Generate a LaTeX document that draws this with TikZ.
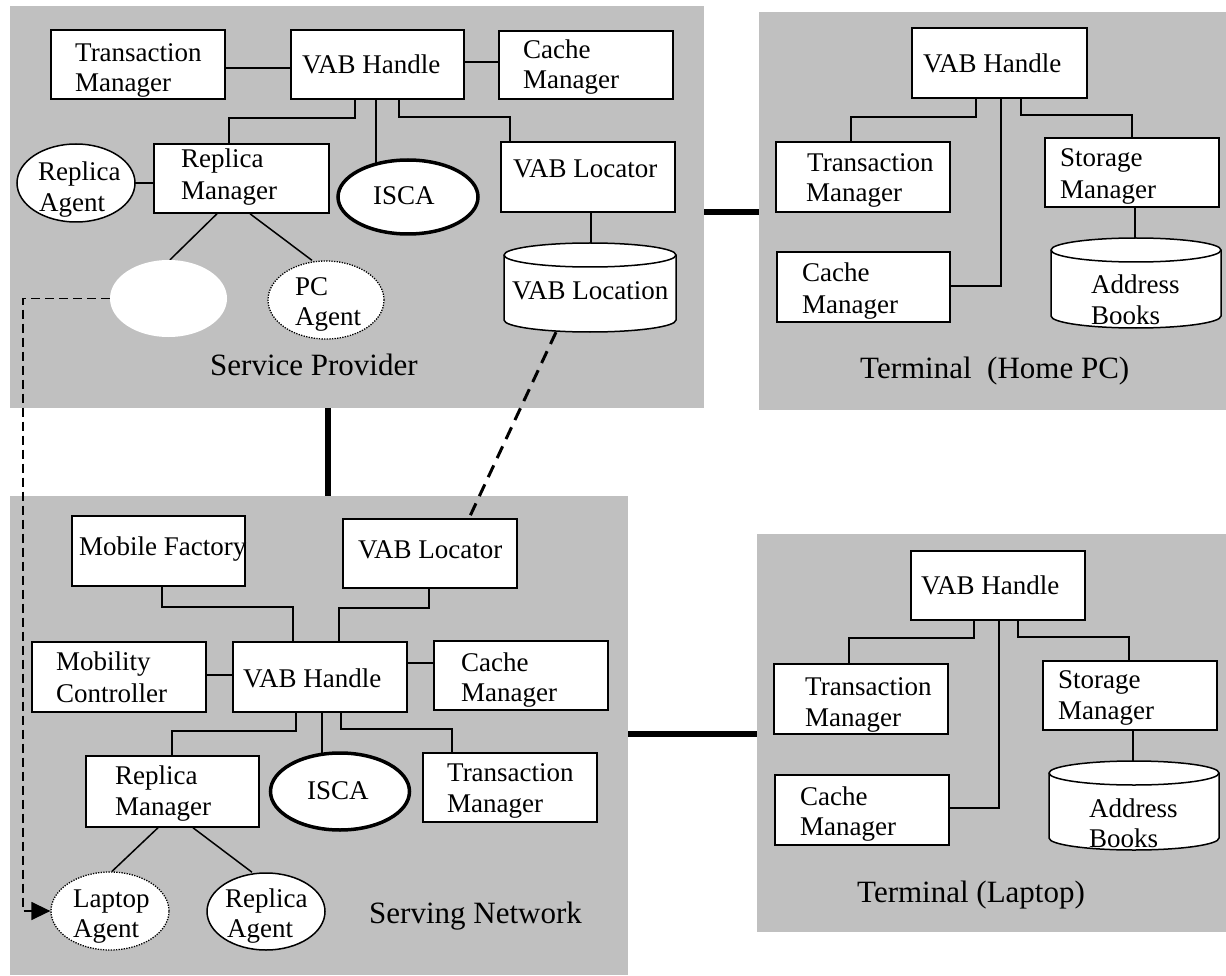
\documentclass[tikz,border=0pt]{standalone}
\usepackage{fontspec}
\setmainfont{Liberation Serif}
\usetikzlibrary{fit,shapes.geometric,arrows.meta}
\pgfdeclarelayer{panels}
\pgfdeclarelayer{wires}
\pgfsetlayers{panels,wires,main}
\definecolor{panelgray}{RGB}{192,192,192}
\tikzset{
  panel/.style={fill=panelgray, draw=none, inner sep=0},
  boxst/.style={draw, fill=white, line width=1.5pt, inner sep=0},
  ell/.style={ellipse, draw, fill=white, line width=1.5pt, inner sep=0},
  thickell/.style={ell, line width=3.5pt},
  dotell/.style={ell, line width=1.3pt, dash pattern=on 1.3pt off 1.3pt},
  blank/.style={ellipse, fill=white, draw=none, inner sep=0},
  txt/.style={font=\fontsize{27}{30}\selectfont, inner sep=0, anchor=base west},
  title/.style={font=\fontsize{31}{34}\selectfont, inner sep=0, anchor=base west},
  wire/.style={line width=1.5pt},
  trunk/.style={line width=6pt},
  locdash/.style={line width=3pt, dash pattern=on 13pt off 8pt},
  movedash/.style={line width=1.5pt, dash pattern=on 9pt off 5pt},
}
% rectangle component: name, corners
\newcommand\bx[5]{\node[boxst, fit={(#2,#3)(#4,#5)}] (#1) {};}
% text line: name, baseline start, text
\newcommand\tx[4]{\node[txt] (#1) at (#2,#3) {#4};}
% database cylinder: name, corners, cap radius
\newcommand\cyl[6]{%
  \node[fit={(#2,#3)(#4,#5)}, inner sep=0] (#1) {};
  \pgfmathsetmacro\cylrx{(#4-#2)/2}
  \draw[boxst] (#2,#3+#6) -- (#2,#5-#6)
    arc[start angle=180, end angle=360, x radius=\cylrx pt, y radius=#6pt]
    -- (#4,#3+#6)
    arc[start angle=0, end angle=180, x radius=\cylrx pt, y radius=#6pt] -- cycle;
  \draw[line width=1.5pt] (#2,#3+#6)
    arc[start angle=180, end angle=360, x radius=\cylrx pt, y radius=#6pt];
}

\begin{document}
\begin{tikzpicture}[x=1pt, y=-1pt]
\useasboundingbox (0,0) rectangle (1226,976);

% ---------- panels ----------
\begin{pgfonlayer}{panels}
  \node[panel, fit={(10,6)(704,408)}] (sp) {};
  \node[panel, fit={(759,12)(1226,410)}] (hp) {};
  \node[panel, fit={(10,496)(628,975)}] (sn) {};
  \node[panel, fit={(757,534)(1226,932)}] (lp) {};
\end{pgfonlayer}

% ---------- Service Provider ----------
\bx{sptm}{51}{30}{225}{99}
\tx{sptm1}{75}{62}{Transaction}
\tx{sptm2}{75}{92}{Manager}
\bx{spvh}{291}{30}{464}{99}
\tx{spvh1}{302}{74}{VAB Handle}
\bx{spcm}{499}{31}{673}{99}
\tx{spcm1}{523}{59}{Cache}
\tx{spcm2}{523}{89}{Manager}
\bx{sprm}{154}{144}{329}{213}
\tx{sprm1}{181}{168}{Replica}
\tx{sprm2}{181}{200}{Manager}
\node[ell, minimum width=118pt, minimum height=78pt] (spra) at (76,183) {};
\tx{spra1}{38}{181}{Replica}
\tx{spra2}{39}{212}{Agent}
\node[thickell, minimum width=140pt, minimum height=74pt] (spis) at (408,197) {};
\tx{spis1}{373}{205}{ISCA}
\bx{spvl}{501}{142}{675}{212}
\tx{spvl1}{513}{178}{VAB Locator}
\cyl{sploc}{504}{243}{676}{332}{12}
\tx{sploc1}{512}{300}{VAB Location}
\node[blank, minimum width=117pt, minimum height=77pt] (spw) at (168.5,298.5) {};
\node[dotell, minimum width=116pt, minimum height=78pt] (sppc) at (326,300) {};
\tx{sppc1}{295}{295}{PC}
\tx{sppc2}{295}{326}{Agent}
\node[title] (splbl) at (210,375) {Service Provider};

% ---------- Terminal (Home PC) ----------
\bx{hpvh}{912}{28}{1087}{98}
\tx{hpvh1}{923}{73}{VAB Handle}
\bx{hptm}{776}{142}{950}{212}
\tx{hptm1}{807}{172}{Transaction}
\tx{hptm2}{806}{202}{Manager}
\bx{hpsm}{1045}{138}{1219}{207}
\tx{hpsm1}{1060}{167}{Storage}
\tx{hpsm2}{1060}{199}{Manager}
\bx{hpcm}{777}{252}{950}{322}
\tx{hpcm1}{802}{282}{Cache}
\tx{hpcm2}{802}{313}{Manager}
\cyl{hpab}{1051}{238}{1221}{328}{12}
\tx{hpab1}{1091}{294}{Address}
\tx{hpab2}{1091}{324}{Books}
\node[title] (hplbl) at (860,378) {Terminal\ \ (Home PC)};

% ---------- Terminal (Laptop) ----------
\bx{lpvh}{911}{551}{1085}{620}
\tx{lpvh1}{921}{594}{VAB Handle}
\bx{lptm}{774}{664}{948}{734}
\tx{lptm1}{805}{695}{Transaction}
\tx{lptm2}{805}{726}{Manager}
\bx{lpsm}{1043}{661}{1217}{730}
\tx{lpsm1}{1058}{688}{Storage}
\tx{lpsm2}{1058}{719}{Manager}
\bx{lpcm}{775}{775}{949}{845}
\tx{lpcm1}{800}{805}{Cache}
\tx{lpcm2}{800}{835}{Manager}
\cyl{lpab}{1049}{761}{1219}{850}{12}
\tx{lpab1}{1089}{817}{Address}
\tx{lpab2}{1089}{847}{Books}
\node[title] (lplbl) at (857,902) {Terminal (Laptop)};

% ---------- Serving Network ----------
\bx{snmf}{72}{516}{245}{586}
\tx{snmf1}{79}{555}{Mobile Factory}
\bx{snvl}{343}{519}{517}{588}
\tx{snvl1}{358}{558}{VAB Locator}
\bx{snmc}{32}{642}{206}{712}
\tx{snmc1}{56}{670}{Mobility}
\tx{snmc2}{56}{702}{Controller}
\bx{snvh}{233}{642}{407}{712}
\tx{snvh1}{243}{687}{VAB Handle}
\bx{sncm}{434}{641}{608}{710}
\tx{sncm1}{461}{671}{Cache}
\tx{sncm2}{461}{701}{Manager}
\bx{snrm}{86}{756}{259}{827}
\tx{snrm1}{115}{784}{Replica}
\tx{snrm2}{115}{815}{Manager}
\node[thickell, minimum width=139pt, minimum height=77pt] (snis) at (340,791.5) {};
\tx{snis1}{307}{799}{ISCA}
\bx{sntm}{423}{753}{597}{822}
\tx{sntm1}{447}{781}{Transaction}
\tx{sntm2}{447}{812}{Manager}
\node[dotell, minimum width=118pt, minimum height=78pt] (snla) at (110,911) {};
\tx{snla1}{73}{907}{Laptop}
\tx{snla2}{73}{937}{Agent}
\node[ell, minimum width=118pt, minimum height=77pt] (snra) at (266,911.5) {};
\tx{snra1}{225}{907}{Replica}
\tx{snra2}{227}{937}{Agent}
\node[title] (snlbl) at (369,923) {Serving Network};
\coordinate (bend) at (23,911);

% ---------- connectors ----------
\begin{pgfonlayer}{wires}
  % links between domains
  \draw[trunk] (sp.east |- 0,212) -- (hp.west |- 0,212);
  \draw[trunk] (sp.south -| 328,0) -- (sn.north -| 328,0);
  \draw[trunk] (sn.east |- 0,734) -- (lp.west |- 0,734);
  \draw[locdash] (sploc.south -| 556,0) -- (snvl.north -| 469,0);
  \draw[movedash, -{Triangle[length=19pt, width=18pt]}]
    (spw.west) -| (bend) -- (snla.west);

  % Service Provider
  \draw[wire] (sptm.east |- 0,68) -- (spvh.west |- 0,68);
  \draw[wire] (spvh.east |- 0,62) -- (spcm.west |- 0,62);
  \draw[wire] (spra.center) -- (sprm.west |- spra.center);
  \draw[wire] (spvh.south -| 355,0) |- (229,118) -- (sprm.north -| 229,0);
  \draw[wire] (spvh.south -| 376,0) -- (spis.center -| 376,0);
  \draw[wire] (spvh.south -| 399,0) |- (510,117) -- (spvl.north -| 510,0);
  \draw[wire] (spvl.south -| 591,0) -- (sploc.north -| 591,0);
  \draw[wire] (sprm.south -| 217,0) -- (spw.north -| 170,0);
  \draw[wire] (sprm.south -| 250,0) -- (sppc.north -| 312,0);

  % Home PC
  \draw[wire] (hpvh.south -| 976,0) |- (851,117) -- (hptm.north -| 851,0);
  \draw[wire] (hpvh.south -| 1001,0) |- (hpcm.east |- 0,286);
  \draw[wire] (hpvh.south -| 1021,0) |- (1132,115) -- (hpsm.north -| 1132,0);
  \draw[wire] (hpsm.south -| 1135,0) -- (hpab.north -| 1135,0);

  % Laptop
  \draw[wire] (lpvh.south -| 974,0) |- (849,638) -- (lptm.north -| 849,0);
  \draw[wire] (lpvh.south -| 999,0) |- (lpcm.east |- 0,808);
  \draw[wire] (lpvh.south -| 1018,0) |- (1129,637) -- (lpsm.north -| 1129,0);
  \draw[wire] (lpsm.south -| 1133,0) -- (lpab.north -| 1133,0);

  % Serving Network
  \draw[wire] (snmf.south -| 162,0) |- (293,607) -- (snvh.north -| 293,0);
  \draw[wire] (snvl.south -| 429,0) |- (339,608) -- (snvh.north -| 339,0);
  \draw[wire] (snmc.east |- 0,675) -- (snvh.west |- 0,675);
  \draw[wire] (snvh.east |- 0,663) -- (sncm.west |- 0,663);
  \draw[wire] (snvh.south -| 296,0) |- (172,731) -- (snrm.north -| 172,0);
  \draw[wire] (snvh.south -| 322,0) -- (snis.center -| 322,0);
  \draw[wire] (snvh.south -| 341,0) |- (452,729) -- (sntm.north -| 452,0);
  \draw[wire] (snrm.south -| 158,0) -- (snla.north -| 112,0);
  \draw[wire] (snrm.south -| 193,0) -- (snra.north -| 252,0);
\end{pgfonlayer}
\end{tikzpicture}
\end{document}
